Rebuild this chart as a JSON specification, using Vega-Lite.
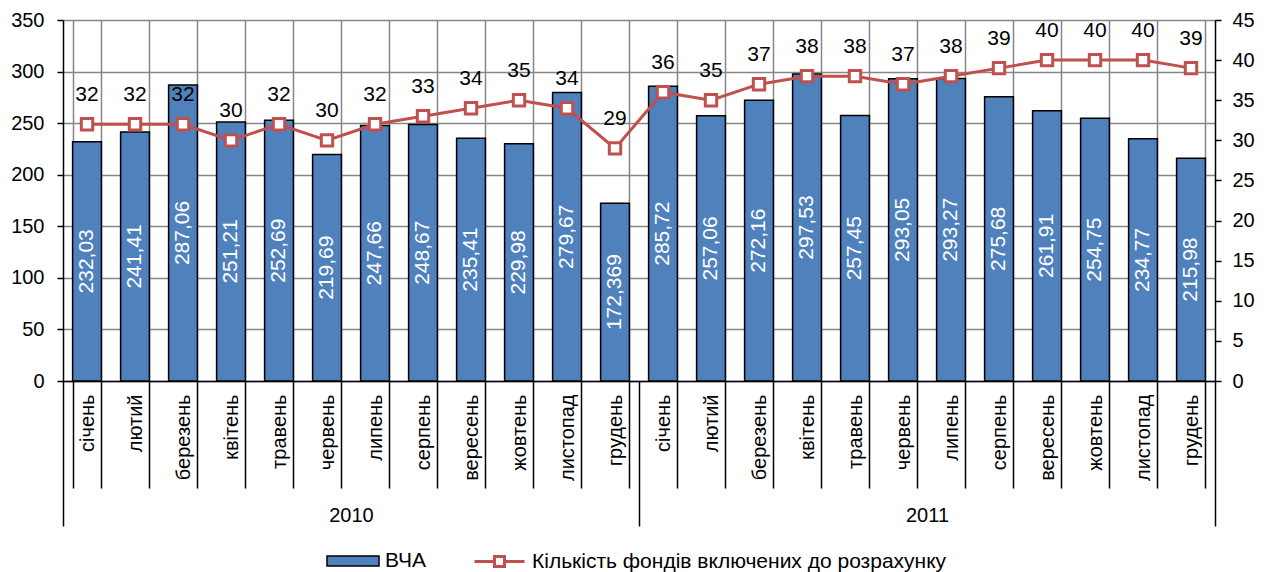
{
  "$schema": "https://vega.github.io/schema/vega-lite/v6.json",
  "width": 1152,
  "height": 361,
  "autosize": {"type": "none"},
  "padding": {"left": 63, "top": 20, "right": 49, "bottom": 191},
  "background": "white",
  "config": {
    "locale": {"number": {"decimal": ",", "thousands": " ", "grouping": [3], "currency": ["", ""]}},
    "font": "Liberation Sans",
    "view": {"stroke": null},
    "axis": {
      "labelFont": "Liberation Sans",
      "labelFontSize": 20,
      "labelColor": "black",
      "domainColor": "black",
      "tickColor": "black",
      "domainWidth": 1.5,
      "tickWidth": 1.5,
      "gridColor": "#868686",
      "gridWidth": 1.5,
      "gridOpacity": 1,
      "title": null
    },
    "legend": {
      "labelFont": "Liberation Sans",
      "labelFontSize": 21,
      "labelColor": "black",
      "labelLimit": 800,
      "padding": 0,
      "title": null
    }
  },
  "data": {
    "values": [
      {"period": "січень 2010", "year": "2010", "vcha": 232.03, "count": 32},
      {"period": "лютий 2010", "year": "2010", "vcha": 241.41, "count": 32},
      {"period": "березень 2010", "year": "2010", "vcha": 287.06, "count": 32},
      {"period": "квітень 2010", "year": "2010", "vcha": 251.21, "count": 30},
      {"period": "травень 2010", "year": "2010", "vcha": 252.69, "count": 32},
      {"period": "червень 2010", "year": "2010", "vcha": 219.69, "count": 30},
      {"period": "липень 2010", "year": "2010", "vcha": 247.66, "count": 32},
      {"period": "серпень 2010", "year": "2010", "vcha": 248.67, "count": 33},
      {"period": "вересень 2010", "year": "2010", "vcha": 235.41, "count": 34},
      {"period": "жовтень 2010", "year": "2010", "vcha": 229.98, "count": 35},
      {"period": "листопад 2010", "year": "2010", "vcha": 279.67, "count": 34},
      {"period": "грудень 2010", "year": "2010", "vcha": 172.369, "count": 29},
      {"period": "січень 2011", "year": "2011", "vcha": 285.72, "count": 36},
      {"period": "лютий 2011", "year": "2011", "vcha": 257.06, "count": 35},
      {"period": "березень 2011", "year": "2011", "vcha": 272.16, "count": 37},
      {"period": "квітень 2011", "year": "2011", "vcha": 297.53, "count": 38},
      {"period": "травень 2011", "year": "2011", "vcha": 257.45, "count": 38},
      {"period": "червень 2011", "year": "2011", "vcha": 293.05, "count": 37},
      {"period": "липень 2011", "year": "2011", "vcha": 293.27, "count": 38},
      {"period": "серпень 2011", "year": "2011", "vcha": 275.68, "count": 39},
      {"period": "вересень 2011", "year": "2011", "vcha": 261.91, "count": 40},
      {"period": "жовтень 2011", "year": "2011", "vcha": 254.75, "count": 40},
      {"period": "листопад 2011", "year": "2011", "vcha": 234.77, "count": 40},
      {"period": "грудень 2011", "year": "2011", "vcha": 215.98, "count": 39}
    ]
  },
  "layer": [
    {
      "layer": [
        {
          "mark": {"type": "bar", "stroke": "black", "strokeWidth": 1.5},
          "encoding": {
            "x": {
              "field": "period", "type": "nominal", "sort": null,
              "scale": {"paddingInner": 0.4, "paddingOuter": 0.2},
              "axis": {
                "orient": "bottom", "tickBand": "extent", "tickSize": 107,
                "labelAngle": -90, "labelAlign": "right", "labelBaseline": "middle",
                "labelPadding": -94,
                "labelExpr": "isValid(datum.value) ? split(datum.value, ' ')[0] : ''",
                "grid": true, "domain": true
              }
            },
            "y": {
              "field": "vcha", "type": "quantitative",
              "scale": {"domain": [0, 350], "nice": false},
              "axis": {"orient": "left", "values": [0, 50, 100, 150, 200, 250, 300, 350], "grid": true, "tickSize": 6, "labelPadding": 13}
            },
            "fill": {
              "datum": "ВЧА",
              "scale": {"range": ["#4F81BD"]},
              "legend": {
                "orient": "none", "legendX": 263, "legendY": 514,
                "symbolType": "M-1,-0.19H1V0.19H-1Z", "symbolSize": 2704,
                "symbolStrokeColor": "black", "symbolStrokeWidth": 1.5,
                "labelOffset": 5
              }
            }
          }
        },
        {
          "mark": {"type": "text", "color": "white", "angle": 270, "align": "center", "baseline": "middle", "fontSize": 21, "font": "Liberation Sans"},
          "encoding": {
            "x": {"field": "period", "type": "nominal", "sort": null},
            "y": {"field": "vcha", "type": "quantitative", "scale": {"domain": [0, 700], "nice": false}, "axis": null},
            "text": {"field": "vcha", "type": "quantitative", "format": "~g"}
          }
        },
        {
          "mark": {"type": "line", "strokeWidth": 3},
          "encoding": {
            "x": {"field": "period", "type": "nominal", "sort": null},
            "y": {
              "field": "count", "type": "quantitative",
              "scale": {"domain": [0, 45], "nice": false},
              "axis": {"orient": "right", "values": [0, 5, 10, 15, 20, 25, 30, 35, 40, 45], "grid": false, "tickSize": 6, "labelPadding": 11}
            },
            "stroke": {
              "datum": "Кількість фондів включених до розрахунку",
              "scale": {"range": ["#C0504D"]},
              "legend": {
                "orient": "none", "legendX": 410, "legendY": 515,
                "symbolType": "M-1,0H-0.2M0.2,0H1M-0.2,-0.2H0.2V0.2H-0.2Z", "symbolSize": 2500,
                "symbolFillColor": "white", "symbolStrokeWidth": 3,
                "labelOffset": 6
              }
            }
          }
        },
        {
          "mark": {"type": "point", "shape": "square", "filled": true, "fill": "white", "stroke": "#C0504D", "strokeWidth": 3, "size": 130, "opacity": 1},
          "encoding": {
            "x": {"field": "period", "type": "nominal", "sort": null},
            "y": {"field": "count", "type": "quantitative", "scale": {"domain": [0, 45], "nice": false}, "axis": null}
          }
        },
        {
          "mark": {"type": "text", "color": "black", "align": "center", "baseline": "middle", "dy": -29, "fontSize": 21, "font": "Liberation Sans"},
          "encoding": {
            "x": {"field": "period", "type": "nominal", "sort": null},
            "y": {"field": "count", "type": "quantitative", "scale": {"domain": [0, 45], "nice": false}, "axis": null},
            "text": {"field": "count", "type": "quantitative"}
          }
        }
      ],
      "resolve": {"scale": {"y": "independent"}}
    },
    {
      "mark": {"type": "rule", "strokeOpacity": 0},
      "encoding": {
        "x": {
          "field": "year", "type": "nominal",
          "scale": {"paddingInner": 0, "paddingOuter": 0},
          "axis": {
            "orient": "bottom", "tickBand": "extent", "tickSize": 145,
            "labelAngle": 0, "labelAlign": "center", "labelBaseline": "top",
            "labelPadding": -21, "domain": false, "grid": false
          }
        }
      }
    }
  ],
  "resolve": {"scale": {"x": "independent"}}
}
